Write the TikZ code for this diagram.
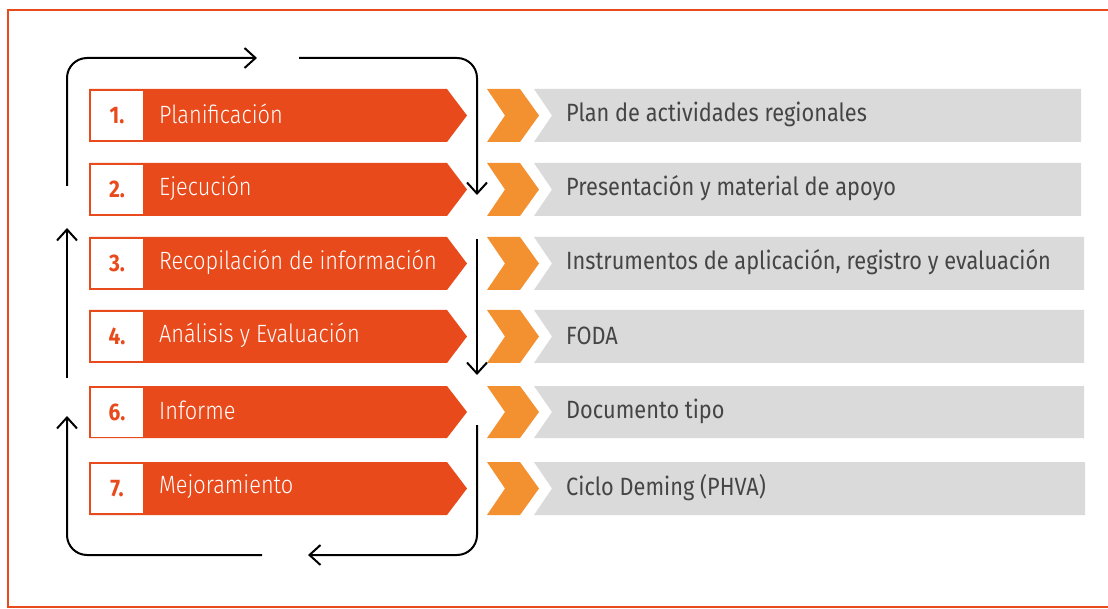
\documentclass[tikz,border=0pt]{standalone}
\usepackage{fontspec}
\setmainfont{Fira Sans}[FakeStretch=0.87]
\IfFontExistsTF{Fira Sans Light}
  {\newfontfamily\lightfont{Fira Sans Light}[FakeStretch=0.87]}
  {\newfontfamily\lightfont{Fira Sans}[FakeStretch=0.87]}
\usetikzlibrary{arrows.meta}
\definecolor{bandorange}{HTML}{E84A1C}
\definecolor{chevorange}{HTML}{F39130}
\definecolor{bargray}{HTML}{DADADA}
\definecolor{txtgray}{HTML}{454545}
\tikzset{
  band/.style={fill=bandorange},
  chev/.style={fill=chevorange},
  graybar/.style={fill=bargray},
  numbox/.style={fill=white, inner sep=0pt, minimum width=52pt, minimum height=49pt,
     text=bandorange, font=\fontsize{24}{28}\selectfont\bfseries},
  labeltext/.style={anchor=west, inner sep=0pt, text=white, font=\lightfont\fontsize{25}{30}\selectfont},
  outtext/.style={anchor=west, inner sep=0pt, text=txtgray, font=\fontsize{25}{30}\selectfont},
  flow/.style={line width=2pt, rounded corners=20pt, -{Straight Barb[length=11pt,width=20pt]}},
}
\newcommand\procrow[7]{%
  \pgfmathsetmacro\rowc{(#2+#3)/2}%
  \path[band] (89,#2) -- (447,#2) -- (467,\rowc) -- (447,#3) -- (89,#3) -- cycle;
  \node[numbox] (num#1) at (117,\rowc) {#4.};
  \node[labeltext] (lab#1) at (159,\rowc-1.5) {#5};
  \path[chev] (487,#2) -- (520,#2) -- (539,\rowc) -- (520,#3) -- (487,#3) -- (505,\rowc) -- cycle;
  \path[graybar] (534,#2) -- (#7,#2) -- (#7,#3) -- (534,#3) -- (552,\rowc) -- cycle;
  \node[outtext] (out#1) at (566,\rowc-1) {#6};
}
\begin{document}
\begin{tikzpicture}[x=1pt,y=-1pt]
\useasboundingbox (0,0) rectangle (1108,609);
\fill[white] (0,0) rectangle (1108,609);
\draw[bandorange, line width=2.5pt] (1108,10) -- (8,10) -- (8,607) -- (1108,607);
\procrow{1}{89}{142}{1}{Planificación}{Plan de actividades regionales}{1081}
\procrow{2}{163}{216}{2}{Ejecución}{Presentación y material de apoyo}{1081}
\procrow{3}{237}{290}{3}{Recopilación de información}{Instrumentos de aplicación, registro y evaluación}{1084}
\procrow{4}{310}{363}{4}{Análisis y Evaluación}{FODA}{1084}
\procrow{6}{386}{438}{6}{Informe}{Documento tipo}{1084}
\procrow{7}{462}{515}{7}{Mejoramiento}{Ciclo Deming (PHVA)}{1085}
% connector coordinates
\coordinate (a1s) at (67,186);
\coordinate (a1c) at (67,58);
\coordinate (a1e) at (257,58);
\coordinate (a2s) at (299,58);
\coordinate (a2c) at (477,58);
\coordinate (a2e) at (477,195);
\coordinate (a3s) at (477,239);
\coordinate (a3e) at (477,375);
\coordinate (a4s) at (67,378);
\coordinate (a4e) at (67,228);
\coordinate (a5s) at (477,425);
\coordinate (a5c) at (477,555);
\coordinate (a5e) at (308,555);
\coordinate (a6s) at (262,555);
\coordinate (a6c) at (67,555);
\coordinate (a6e) at (67,416);
\draw[flow] (a1s) -- (a1c) -- (a1e);
\draw[flow] (a2s) -- (a2c) -- (a2e);
\draw[flow] (a3s) -- (a3e);
\draw[flow] (a4s) -- (a4e);
\draw[flow] (a5s) -- (a5c) -- (a5e);
\draw[flow] (a6s) -- (a6c) -- (a6e);
\end{tikzpicture}
\end{document}
